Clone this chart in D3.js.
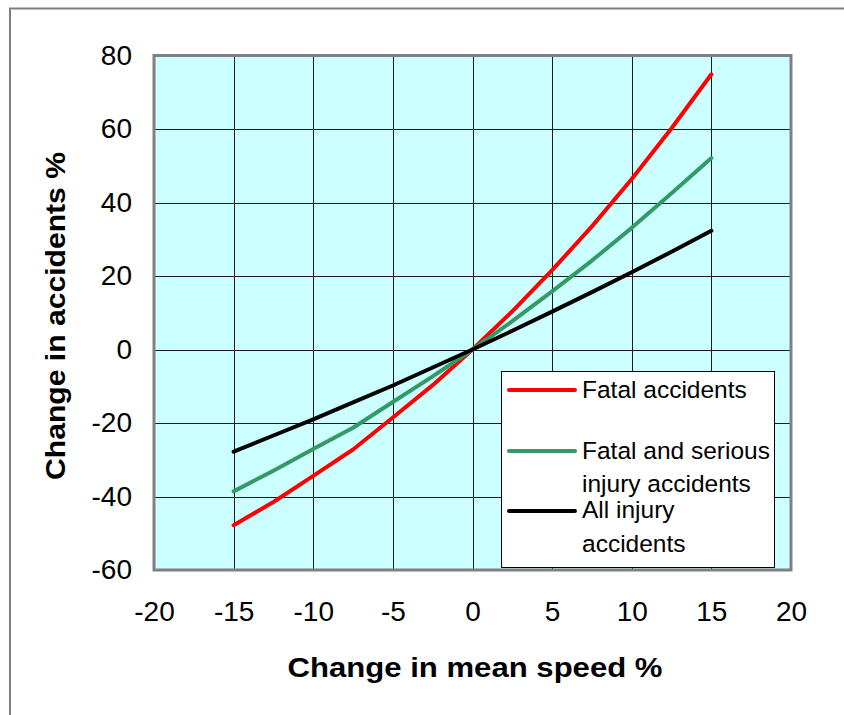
<!DOCTYPE html>
<html>
<head>
<meta charset="utf-8">
<script src="https://cdn.jsdelivr.net/npm/d3@7"></script>
<style>
  body { margin: 0; background: #fff; }
  svg { display: block; font-family: "Liberation Sans", Arial, sans-serif; }
</style>
</head>
<body>
<div id="chart"></div>
<script>
// speed change (%) and accident change (%)
var speedChange = [-15, -12.5, -10, -7.5, -5, -2.5, 0, 2.5, 5, 7.5, 10, 12.5, 15];
var fatal       = [-47.8, -41.5, -34.4, -27.2, -18.5, -9.7, 0, 10.4, 21.6, 33.5, 46.4, 60.2, 74.9];
var fatalSerious= [-38.6, -33.0, -27.1, -21.3, -14.3, -7.3, 0, 7.7, 15.8, 24.2, 33.1, 42.5, 52.1];
var allInjury   = [-27.8, -23.4, -19.0, -14.4, -9.8, -4.9, 0, 5.1, 10.3, 15.6, 21.0, 26.6, 32.3];

var xTicks = [-20, -15, -10, -5, 0, 5, 10, 15, 20];
var yTicks = [-60, -40, -20, 0, 20, 40, 60, 80];

var seriesNames  = ["Fatal accidents", "Fatal and serious|injury accidents", "All injury|accidents"];
var seriesColors = ["#ff0000", "#339966", "#000000"];
var seriesData   = [fatal, fatalSerious, allInjury];

var W = 844, H = 715;
var plot = {left: 154, top: 55.5, right: 791, bottom: 570};

var svg = d3.select("#chart").append("svg").attr("width", W).attr("height", H);

// outer frame (only top/left visible)
svg.append("rect").attr("x", 10).attr("y", 8.5).attr("width", 900).attr("height", 800)
    .attr("fill", "#fff").attr("stroke", "#808080").attr("stroke-width", 2);

var x = d3.scaleLinear().domain([-20, 20]).range([plot.left, plot.right]);
var y = d3.scaleLinear().domain([-60, 80]).range([plot.bottom, plot.top]);

svg.append("rect").attr("x", plot.left).attr("y", plot.top)
    .attr("width", plot.right - plot.left).attr("height", plot.bottom - plot.top)
    .attr("fill", "#ccffff");

// grid
var grid = svg.append("g").attr("stroke", "#1a1a1a").attr("stroke-width", 1);
grid.selectAll(".vx").data(xTicks.slice(1, -1)).enter().append("line")
    .attr("x1", function(d){ return Math.round(x(d)) + 0.5; })
    .attr("x2", function(d){ return Math.round(x(d)) + 0.5; })
    .attr("y1", plot.top).attr("y2", plot.bottom);
grid.selectAll(".hy").data(yTicks.slice(1, -1)).enter().append("line")
    .attr("y1", function(d){ return Math.round(y(d)) + 0.5; })
    .attr("y2", function(d){ return Math.round(y(d)) + 0.5; })
    .attr("x1", plot.left).attr("x2", plot.right);

svg.append("rect").attr("x", plot.left).attr("y", plot.top)
    .attr("width", plot.right - plot.left).attr("height", plot.bottom - plot.top)
    .attr("fill", "none").attr("stroke", "#808080").attr("stroke-width", 3);

// lines
var line = d3.line()
    .x(function(d, i){ return x(speedChange[i]); })
    .y(function(d){ return y(d); });

seriesData.forEach(function(s, k) {
    svg.append("path").datum(s).attr("d", line)
        .attr("fill", "none").attr("stroke", seriesColors[k])
        .attr("stroke-width", 4).attr("stroke-linejoin", "round").attr("stroke-linecap", "round");
});

// axes labels (plain hyphen for negatives, as in the original)
var fmt = function(d){ return String(d); };

var yAxis = d3.axisLeft(y).tickValues(yTicks).tickFormat(fmt).tickSize(0).tickPadding(22);
var gy = svg.append("g").attr("transform", "translate(" + plot.left + ",0)").call(yAxis);
gy.select(".domain").remove();
gy.selectAll("text").attr("font-size", 28).attr("fill", "#000")
    .attr("font-family", "Liberation Sans, Arial, sans-serif");

var xAxis = d3.axisBottom(x).tickValues(xTicks).tickFormat(fmt).tickSize(0).tickPadding(31);
var gx = svg.append("g").attr("transform", "translate(0," + plot.bottom + ")").call(xAxis);
gx.select(".domain").remove();
gx.selectAll("text").attr("font-size", 28).attr("fill", "#000")
    .attr("font-family", "Liberation Sans, Arial, sans-serif");

// titles
svg.append("text").attr("x", 475).attr("y", 677).attr("text-anchor", "middle")
    .attr("font-size", 28).attr("font-weight", "bold")
    .attr("textLength", 375).attr("lengthAdjust", "spacingAndGlyphs")
    .text("Change in mean speed %");

svg.append("text").attr("transform", "translate(65,316) rotate(-90)").attr("text-anchor", "middle")
    .attr("font-size", 28).attr("font-weight", "bold")
    .attr("textLength", 328).attr("lengthAdjust", "spacingAndGlyphs")
    .text("Change in accidents %");

// legend
var leg = svg.append("g");
leg.append("rect").attr("x", 501.5).attr("y", 371.5).attr("width", 273).attr("height", 196)
    .attr("fill", "#fff").attr("stroke", "#000").attr("stroke-width", 1);

var legLineY = [390, 451, 511];
var legTextY = [[398], [459, 492], [518, 552]];
seriesNames.forEach(function(name, k) {
    leg.append("line").attr("x1", 509).attr("x2", 575)
        .attr("y1", legLineY[k]).attr("y2", legLineY[k])
        .attr("stroke", seriesColors[k]).attr("stroke-width", 4).attr("stroke-linecap", "round");
    name.split("|").forEach(function(part, j) {
        leg.append("text").attr("x", 582).attr("y", legTextY[k][j])
            .attr("font-size", 24.5).attr("fill", "#000").text(part);
    });
});
</script>
</body>
</html>
